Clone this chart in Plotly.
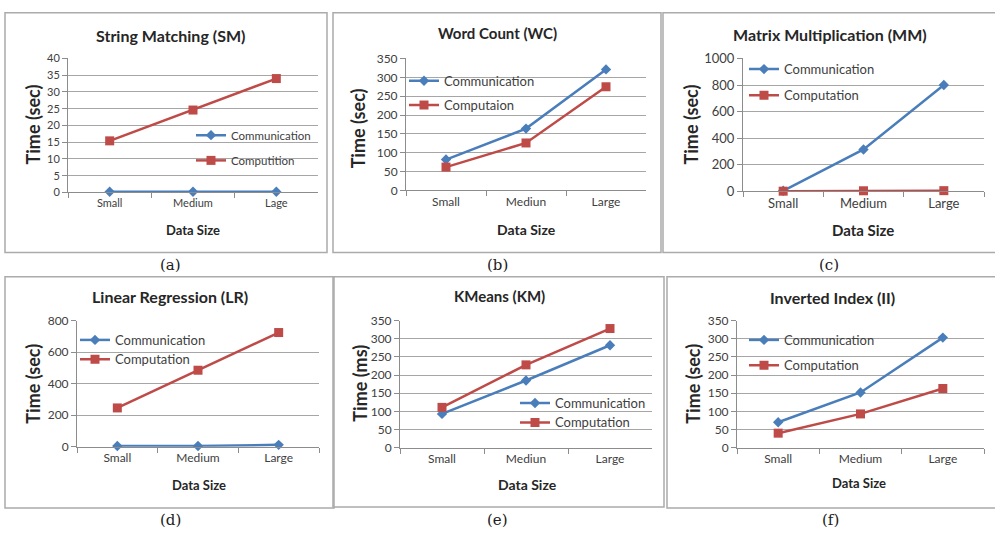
import plotly.graph_objects as go

W, H = 995, 545

# ---------------- data ----------------
titles = ["String Matching (SM)", "Word Count (WC)", "Matrix Multiplication (MM)",
          "Linear Regression (LR)", "KMeans (KM)", "Inverted Index (II)"]
captions = ["(a)", "(b)", "(c)", "(d)", "(e)", "(f)"]
cats_a = ["Small", "Medium", "Lage"]
cats_b = ["Small", "Mediun", "Large"]
cats_c = ["Small", "Medium", "Large"]
cats_d = ["Small", "Medium", "Large"]
cats_e = ["Small", "Mediun", "Large"]
cats_f = ["Small", "Medium", "Large"]

comm_a = [0.2, 0.2, 0.2]
comp_a = [15.4, 24.6, 34.0]
comm_b = [82, 164, 321]
comp_b = [62, 126, 275]
comm_c = [5, 316, 800]
comp_c = [2, 5, 6]
comm_d = [5, 5, 12]
comp_d = [246, 485, 724]
comm_e = [93, 185, 282]
comp_e = [111, 228, 328]
comm_f = [70, 152, 303]
comp_f = [40, 93, 163]

comm_names = ["Communication"] * 6
comp_names = ["Computition", "Computaion", "Computation", "Computation", "Computation", "Computation"]
ytitles = ["Time (sec)", "Time (sec)", "Time (sec)", "Time (sec)", "Time (ms)", "Time (sec)"]
xtitle = "Data Size"
ymax = [40, 350, 1000, 800, 350, 350]
ystep = [5, 50, 200, 200, 50, 50]

# ---------------- layout geometry (pixels) ----------------
plot_px = [  # left, right, top, bottom
    (68, 318, 52, 190), (406, 646, 52, 188), (743, 984, 52, 189),
    (77, 319, 322, 452), (400, 652, 322, 453), (737, 984, 322, 453)]
box_px = [(5, 327, 5, 252), (333, 661, 5, 252), (663, 997, 5, 252),
          (5, 334, 277, 515), (333, 664, 277, 514), (667, 997, 277, 515)]
title_pos = [(170, 28), (497, 26), (830, 27), (170, 297), (499, 297), (832, 298)]
ytitle_pos = [(33, 120), (358, 124), (691, 120), (33, 387), (360, 387), (693, 387)]
xtitle_pos = [(193, 229), (526, 228), (863, 229), (199, 491), (527, 491), (859, 489)]
caption_pos = [(170, 265), (497, 265), (829, 265), (170, 528), (497, 528), (830, 528)]
leg_comm = [(233, 131), (446, 75), (786, 63), (117, 342), (557, 407), (786, 342)]
leg_comp = [(233, 157), (446, 100), (786, 90), (117, 362), (557, 427), (786, 368)]
title_fs = [16, 15, 16, 16, 15, 16]
tick_fs = [11, 12, 13, 12, 12, 12]
axt_fs = [18, 18, 18, 18, 18, 18]
xt_fs = [13, 14, 15, 13, 14, 13]
leg_fs = [11.5, 13, 13, 13, 13, 13]

BLUE = "#4A7EBB"
RED = "#BE4B48"
FONT = "Lato"

cats = [cats_a, cats_b, cats_c, cats_d, cats_e, cats_f]
comms = [comm_a, comm_b, comm_c, comm_d, comm_e, comm_f]
comps = [comp_a, comp_b, comp_c, comp_d, comp_e, comp_f]

def px_x(v):
    return v / W

def px_y(v):
    return 1 - v / H

fig = go.Figure()
layout = dict(width=W, height=H, margin=dict(l=0, r=0, t=0, b=0),
              paper_bgcolor="white", plot_bgcolor="white", showlegend=True)
annotations = []
shapes = []

for i in range(6):
    n = i + 1
    xa = "x" if n == 1 else f"x{n}"
    ya = "y" if n == 1 else f"y{n}"
    l, r, t, b = plot_px[i]
    lg1 = f"legend{2 * i + 1}" if i > 0 else "legend"
    lg2 = f"legend{2 * i + 2}"
    fig.add_trace(go.Scatter(x=cats[i], y=comms[i], name=comm_names[i], mode="lines+markers",
                             line=dict(color=BLUE, width=2.5),
                             marker=dict(symbol="diamond", size=8, color=BLUE),
                             xaxis=xa, yaxis=ya, legend=lg1, cliponaxis=False))
    fig.add_trace(go.Scatter(x=cats[i], y=comps[i], name=comp_names[i], mode="lines+markers",
                             line=dict(color=RED, width=2.5),
                             marker=dict(symbol="square", size=9, color=RED),
                             xaxis=xa, yaxis=ya, legend=lg2, cliponaxis=False))
    xkey = "xaxis" if n == 1 else f"xaxis{n}"
    ykey = "yaxis" if n == 1 else f"yaxis{n}"
    layout[xkey] = dict(domain=[px_x(l), px_x(r)], anchor=ya, type="category",
                        range=[-0.5, 2.5], tickson="boundaries", ticks="outside", ticklen=5,
                        tickcolor="#8C8C8C", showline=True, linecolor="#8C8C8C", linewidth=1,
                        showgrid=False, zeroline=False,
                        tickfont=dict(family=FONT, size=tick_fs[i], color="#404040"))
    layout[ykey] = dict(domain=[px_y(b), px_y(t)], anchor=xa, range=[0, ymax[i]],
                        dtick=ystep[i], tick0=0, ticks="outside", ticklen=5, tickcolor="#8C8C8C",
                        showline=True, linecolor="#8C8C8C", linewidth=1,
                        showgrid=True, gridcolor="#A6A6A6", gridwidth=1, zeroline=False,
                        tickfont=dict(family=FONT, size=tick_fs[i], color="#404040"))
    for (tx, ty), nm, key in ((leg_comm[i], comm_names[i], lg1), (leg_comp[i], comp_names[i], lg2)):
        layout[key] = dict(x=px_x(tx - 42), y=px_y(ty), xanchor="left", yanchor="middle",
                           bgcolor="rgba(0,0,0,0)", borderwidth=0,
                           font=dict(family=FONT, size=leg_fs[i], color="#404040"))
    bl, br, bt, bb = box_px[i]
    shapes.append(dict(type="rect", xref="paper", yref="paper",
                       x0=px_x(bl), x1=px_x(br), y0=px_y(bb), y1=px_y(bt),
                       line=dict(color="#ABABAB", width=1.5)))
    annotations.append(dict(text=f"<b>{titles[i]}</b>", x=px_x(title_pos[i][0]), y=px_y(title_pos[i][1]),
                            xref="paper", yref="paper", showarrow=False, xanchor="center", yanchor="middle",
                            font=dict(family=FONT, size=title_fs[i], color="#262626")))
    annotations.append(dict(text=f"<b>{ytitles[i]}</b>", x=px_x(ytitle_pos[i][0]), y=px_y(ytitle_pos[i][1]),
                            xref="paper", yref="paper", showarrow=False, xanchor="center", yanchor="middle",
                            textangle=-90, font=dict(family=FONT, size=axt_fs[i], color="#262626")))
    annotations.append(dict(text=f"<b>{xtitle}</b>", x=px_x(xtitle_pos[i][0]), y=px_y(xtitle_pos[i][1]),
                            xref="paper", yref="paper", showarrow=False, xanchor="center", yanchor="middle",
                            font=dict(family=FONT, size=xt_fs[i], color="#262626")))
    annotations.append(dict(text=captions[i], x=px_x(caption_pos[i][0]), y=px_y(caption_pos[i][1]),
                            xref="paper", yref="paper", showarrow=False, xanchor="center", yanchor="middle",
                            font=dict(family="DejaVu Serif", size=15, color="#202020")))

layout["annotations"] = annotations
layout["shapes"] = shapes
fig.update_layout(**layout)
fig.write_html("out.html")
